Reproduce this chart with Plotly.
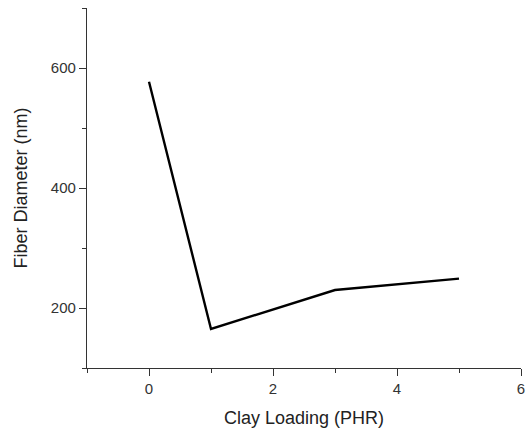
import plotly.graph_objects as go

clay_loading = [0, 1, 3, 5]
fiber_diameter = [577, 165, 230, 249]

FONT = "Liberation Sans, Arial, sans-serif"

fig = go.Figure()
fig.add_trace(go.Scatter(x=clay_loading, y=fiber_diameter, mode="lines",
                         line=dict(color="black", width=2.4), cliponaxis=False,
                         hoverinfo="skip"))

axis_common = dict(showgrid=False, zeroline=False, showline=True, linecolor="#333",
                   linewidth=1.3, ticks="outside", ticklen=7, tickwidth=1.3,
                   tickcolor="#333", automargin=False,
                   tickfont=dict(family=FONT, size=15, color="#333"),
                   minor=dict(ticks="outside", ticklen=4, tickwidth=1.3, tickcolor="#333", showgrid=False))

fig.update_xaxes(range=[-1, 6], tickvals=[0, 2, 4, 6], minor_dtick=1, minor_tick0=0,
                 title=dict(text="Clay Loading (PHR)", font=dict(family=FONT, size=18, color="#222"), standoff=15),
                 **axis_common)
fig.update_yaxes(range=[100, 700], tickvals=[200, 400, 600], minor_dtick=100, minor_tick0=0,
                 title=dict(text="Fiber Diameter (nm)", font=dict(family=FONT, size=18, color="#222"), standoff=18),
                 **axis_common)

fig.update_layout(width=527, height=429, margin=dict(l=87, r=6, t=8, b=61, autoexpand=False),
                  plot_bgcolor="white", paper_bgcolor="white", showlegend=False)

fig.write_html("out.html", config={"displayModeBar": False},
               post_script="document.body.style.margin='0';document.body.style.overflow='hidden';")
